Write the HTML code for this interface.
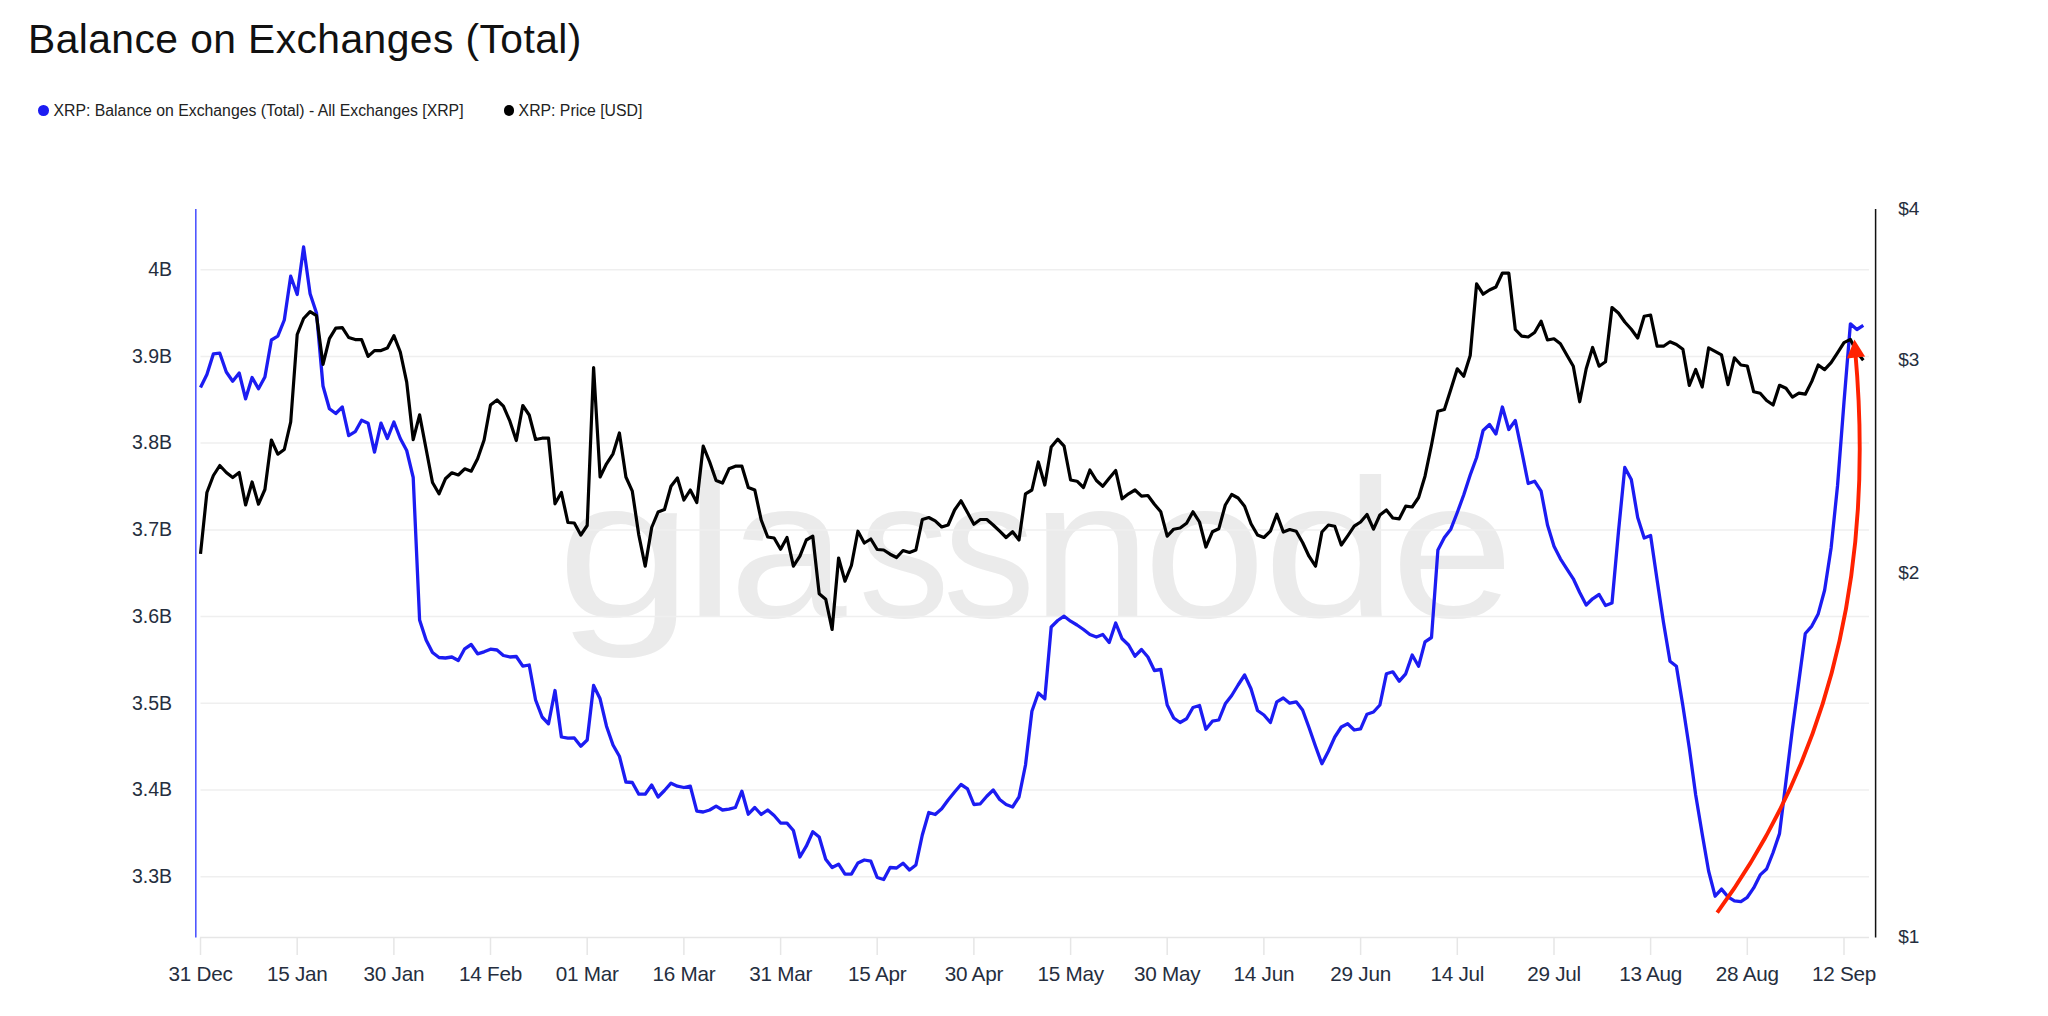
<!DOCTYPE html>
<html><head><meta charset="utf-8"><title>Balance on Exchanges (Total)</title>
<style>
html,body{margin:0;padding:0;background:#fff;}
body{width:2048px;height:1016px;position:relative;overflow:hidden;font-family:"Liberation Sans",Arial,sans-serif;}
h1{position:absolute;left:28px;top:14px;margin:0;font-weight:400;font-size:40.8px;letter-spacing:0.42px;line-height:50px;color:#111;white-space:nowrap;}
.lg{position:absolute;top:100.8px;font-size:15.8px;line-height:20px;color:#222;white-space:nowrap;}
.dot{position:absolute;width:10.6px;height:10.6px;border-radius:50%;top:105.1px;}
.ax{font-family:"Liberation Sans",Arial,sans-serif;font-size:19.5px;fill:#252e3e;}
.rx{font-family:"Liberation Sans",Arial,sans-serif;font-size:19px;fill:#252e3e;}
.dx{font-family:"Liberation Sans",Arial,sans-serif;font-size:20.7px;letter-spacing:-0.25px;fill:#252e3e;}
</style></head>
<body>
<svg width="2048" height="1016" viewBox="0 0 2048 1016" style="position:absolute;left:0;top:0"><g fill="#ebebeb" font-family="Liberation Sans, Arial, sans-serif" font-size="200"><text transform="matrix(1.2222 0 0 0.9850 556.73 616.5)">g</text><text transform="matrix(1.1534 0 0 1.0150 683.94 616.5)">l</text><text transform="matrix(1.0545 0 0 0.9850 729.14 616.5)">a</text><text transform="matrix(0.9117 0 0 0.9850 858.59 616.5)">s</text><text transform="matrix(0.9220 0 0 0.9850 943.04 616.5)">s</text><text transform="matrix(1.0753 0 0 0.9850 1031.41 616.5)">n</text><text transform="matrix(1.1028 0 0 0.9850 1143.14 616.5)">o</text><text transform="matrix(1.2111 0 0 0.9850 1262.83 616.5)">d</text><text transform="matrix(1.1064 0 0 0.9850 1390.71 616.5)">e</text></g><line x1="200.5" x2="1869" y1="269.7" y2="269.7" stroke="#efefef" stroke-width="1.5"/><line x1="200.5" x2="1869" y1="356.4" y2="356.4" stroke="#efefef" stroke-width="1.5"/><line x1="200.5" x2="1869" y1="443.1" y2="443.1" stroke="#efefef" stroke-width="1.5"/><line x1="200.5" x2="1869" y1="529.9" y2="529.9" stroke="#efefef" stroke-width="1.5"/><line x1="200.5" x2="1869" y1="616.6" y2="616.6" stroke="#efefef" stroke-width="1.5"/><line x1="200.5" x2="1869" y1="703.3" y2="703.3" stroke="#efefef" stroke-width="1.5"/><line x1="200.5" x2="1869" y1="790.0" y2="790.0" stroke="#efefef" stroke-width="1.5"/><line x1="200.5" x2="1869" y1="876.7" y2="876.7" stroke="#efefef" stroke-width="1.5"/><line x1="200" x2="1869" y1="937.6" y2="937.6" stroke="#e6e6e6" stroke-width="1.5"/><line x1="200.5" x2="200.5" y1="937.6" y2="955" stroke="#e6e6e6" stroke-width="1.5"/><line x1="297.2" x2="297.2" y1="937.6" y2="955" stroke="#e6e6e6" stroke-width="1.5"/><line x1="393.9" x2="393.9" y1="937.6" y2="955" stroke="#e6e6e6" stroke-width="1.5"/><line x1="490.5" x2="490.5" y1="937.6" y2="955" stroke="#e6e6e6" stroke-width="1.5"/><line x1="587.2" x2="587.2" y1="937.6" y2="955" stroke="#e6e6e6" stroke-width="1.5"/><line x1="683.9" x2="683.9" y1="937.6" y2="955" stroke="#e6e6e6" stroke-width="1.5"/><line x1="780.6" x2="780.6" y1="937.6" y2="955" stroke="#e6e6e6" stroke-width="1.5"/><line x1="877.2" x2="877.2" y1="937.6" y2="955" stroke="#e6e6e6" stroke-width="1.5"/><line x1="973.9" x2="973.9" y1="937.6" y2="955" stroke="#e6e6e6" stroke-width="1.5"/><line x1="1070.6" x2="1070.6" y1="937.6" y2="955" stroke="#e6e6e6" stroke-width="1.5"/><line x1="1167.2" x2="1167.2" y1="937.6" y2="955" stroke="#e6e6e6" stroke-width="1.5"/><line x1="1263.9" x2="1263.9" y1="937.6" y2="955" stroke="#e6e6e6" stroke-width="1.5"/><line x1="1360.6" x2="1360.6" y1="937.6" y2="955" stroke="#e6e6e6" stroke-width="1.5"/><line x1="1457.3" x2="1457.3" y1="937.6" y2="955" stroke="#e6e6e6" stroke-width="1.5"/><line x1="1554.0" x2="1554.0" y1="937.6" y2="955" stroke="#e6e6e6" stroke-width="1.5"/><line x1="1650.6" x2="1650.6" y1="937.6" y2="955" stroke="#e6e6e6" stroke-width="1.5"/><line x1="1747.3" x2="1747.3" y1="937.6" y2="955" stroke="#e6e6e6" stroke-width="1.5"/><line x1="1844.0" x2="1844.0" y1="937.6" y2="955" stroke="#e6e6e6" stroke-width="1.5"/><line x1="195.8" x2="195.8" y1="209" y2="937.6" stroke="#4f57ff" stroke-width="1.6"/><line x1="1875.6" x2="1875.6" y1="209" y2="937.6" stroke="#111" stroke-width="1.5"/><text x="172" y="275.9" text-anchor="end" class="ax">4B</text><text x="172" y="362.6" text-anchor="end" class="ax">3.9B</text><text x="172" y="449.3" text-anchor="end" class="ax">3.8B</text><text x="172" y="536.1" text-anchor="end" class="ax">3.7B</text><text x="172" y="622.8" text-anchor="end" class="ax">3.6B</text><text x="172" y="709.5" text-anchor="end" class="ax">3.5B</text><text x="172" y="796.2" text-anchor="end" class="ax">3.4B</text><text x="172" y="882.9" text-anchor="end" class="ax">3.3B</text><text x="200.5" y="981" text-anchor="middle" class="dx">31 Dec</text><text x="297.2" y="981" text-anchor="middle" class="dx">15 Jan</text><text x="393.9" y="981" text-anchor="middle" class="dx">30 Jan</text><text x="490.5" y="981" text-anchor="middle" class="dx">14 Feb</text><text x="587.2" y="981" text-anchor="middle" class="dx">01 Mar</text><text x="683.9" y="981" text-anchor="middle" class="dx">16 Mar</text><text x="780.6" y="981" text-anchor="middle" class="dx">31 Mar</text><text x="877.2" y="981" text-anchor="middle" class="dx">15 Apr</text><text x="973.9" y="981" text-anchor="middle" class="dx">30 Apr</text><text x="1070.6" y="981" text-anchor="middle" class="dx">15 May</text><text x="1167.2" y="981" text-anchor="middle" class="dx">30 May</text><text x="1263.9" y="981" text-anchor="middle" class="dx">14 Jun</text><text x="1360.6" y="981" text-anchor="middle" class="dx">29 Jun</text><text x="1457.3" y="981" text-anchor="middle" class="dx">14 Jul</text><text x="1554.0" y="981" text-anchor="middle" class="dx">29 Jul</text><text x="1650.6" y="981" text-anchor="middle" class="dx">13 Aug</text><text x="1747.3" y="981" text-anchor="middle" class="dx">28 Aug</text><text x="1844.0" y="981" text-anchor="middle" class="dx">12 Sep</text><text x="1898.3" y="215.2" class="rx">$4</text><text x="1898.3" y="366.0" class="rx">$3</text><text x="1898.3" y="579.1" class="rx">$2</text><text x="1898.3" y="943.1" class="rx">$1</text><polyline fill="none" stroke="#1c1cf2" stroke-width="3.3" stroke-linejoin="round" points="200.5,387.5 206.9,374.5 213.4,353.8 219.8,353.2 226.3,372.0 232.7,381.2 239.2,373.0 245.6,398.8 252.1,377.5 258.5,388.8 264.9,377.0 271.4,340.0 277.8,336.2 284.3,320.0 290.7,276.2 297.2,294.5 303.6,247.0 310.1,293.8 316.5,313.0 323.0,386.0 329.4,408.7 335.8,413.5 342.3,407.0 348.7,435.6 355.2,431.7 361.6,420.2 368.1,423.2 374.5,452.1 381.0,423.2 387.4,438.5 393.9,422.0 400.3,438.5 406.7,450.5 413.2,477.5 419.6,620.0 426.1,640.0 432.5,652.5 439.0,657.5 445.4,658.0 451.9,657.0 458.3,660.5 464.7,648.8 471.2,644.5 477.6,653.8 484.1,651.8 490.5,649.2 497.0,650.0 503.4,655.5 509.9,657.0 516.3,656.5 522.8,666.2 529.2,665.0 535.6,700.0 542.1,717.0 548.5,723.8 555.0,690.5 561.4,737.0 567.9,738.2 574.3,738.0 580.8,746.2 587.2,740.0 593.6,685.5 600.1,698.8 606.5,726.2 613.0,745.0 619.4,756.2 625.9,782.0 632.3,782.5 638.8,794.2 645.2,794.2 651.7,785.0 658.1,797.0 664.5,790.5 671.0,783.2 677.4,786.2 683.9,787.5 690.3,786.2 696.8,811.2 703.2,812.0 709.7,810.0 716.1,806.2 722.5,810.0 729.0,809.2 735.4,807.5 741.9,791.2 748.3,814.2 754.8,807.5 761.2,814.5 767.7,810.0 774.1,815.5 780.6,823.0 787.0,823.2 793.4,830.5 799.9,857.0 806.3,846.2 812.8,831.8 819.2,837.0 825.7,859.2 832.1,867.5 838.6,864.2 845.0,874.2 851.4,874.2 857.9,863.0 864.3,860.0 870.8,861.2 877.2,877.5 883.7,879.5 890.1,867.5 896.6,868.0 903.0,863.2 909.5,870.0 915.9,865.0 922.3,835.0 928.8,812.5 935.2,814.5 941.7,808.8 948.1,800.0 954.6,792.0 961.0,784.5 967.5,788.8 973.9,804.5 980.3,803.8 986.8,796.2 993.2,790.0 999.7,799.5 1006.1,804.5 1012.6,807.0 1019.0,797.0 1025.5,765.0 1031.9,711.2 1038.3,693.0 1044.8,698.8 1051.2,627.0 1057.7,620.5 1064.1,616.2 1070.6,621.2 1077.0,625.0 1083.5,629.5 1089.9,634.5 1096.4,637.0 1102.8,634.5 1109.2,642.5 1115.7,623.0 1122.1,638.8 1128.6,645.0 1135.0,656.2 1141.5,649.5 1147.9,657.0 1154.4,670.5 1160.8,669.5 1167.2,705.0 1173.7,718.0 1180.1,722.5 1186.6,718.8 1193.0,707.5 1199.5,705.5 1205.9,729.2 1212.4,721.2 1218.8,720.0 1225.3,703.8 1231.7,695.5 1238.1,685.0 1244.6,675.0 1251.0,688.8 1257.5,710.5 1263.9,715.0 1270.4,722.5 1276.8,701.8 1283.3,698.0 1289.7,703.2 1296.2,701.8 1302.6,710.0 1309.0,727.5 1315.5,746.2 1321.9,763.8 1328.4,751.2 1334.8,737.0 1341.3,727.0 1347.7,723.8 1354.2,730.0 1360.6,728.8 1367.0,714.2 1373.5,712.0 1379.9,705.0 1386.4,673.8 1392.8,671.8 1399.3,681.2 1405.7,673.8 1412.2,655.0 1418.6,666.2 1425.0,641.8 1431.5,637.5 1437.9,550.0 1444.4,537.5 1450.8,529.2 1457.3,512.5 1463.7,495.0 1470.2,475.0 1476.6,457.5 1483.1,430.5 1489.5,424.5 1495.9,434.0 1502.4,407.0 1508.8,429.5 1515.3,420.5 1521.7,451.0 1528.2,483.5 1534.6,481.2 1541.1,491.2 1547.5,525.0 1554.0,546.2 1560.4,558.8 1566.8,568.8 1573.3,578.8 1579.7,592.5 1586.2,605.0 1592.6,598.8 1599.1,594.5 1605.5,605.5 1612.0,603.0 1618.4,532.5 1624.8,467.5 1631.3,479.5 1637.7,517.5 1644.2,538.0 1650.6,535.5 1657.1,580.0 1663.5,622.5 1670.0,661.2 1676.4,666.2 1682.9,706.0 1689.3,748.0 1695.7,795.0 1702.2,834.0 1708.6,871.0 1715.1,896.2 1721.5,889.1 1728.0,896.9 1734.4,900.9 1740.9,901.6 1747.3,897.3 1753.7,887.9 1760.2,874.9 1766.6,869.0 1773.1,852.5 1779.5,833.6 1786.0,781.0 1792.4,729.0 1798.9,681.0 1805.3,633.5 1811.8,626.1 1818.2,613.9 1824.6,590.2 1831.1,548.0 1837.5,486.0 1844.0,402.0 1850.4,323.8 1856.9,329.5 1863.3,325.3"/><polyline fill="none" stroke="#000" stroke-width="3.2" stroke-linejoin="round" points="200.5,553.8 206.9,492.5 213.4,475.5 219.8,465.5 226.3,472.5 232.7,477.5 239.2,472.5 245.6,505.0 252.1,482.0 258.5,504.2 264.9,489.5 271.4,440.0 277.8,454.2 284.3,449.5 290.7,422.0 297.2,334.5 303.6,318.5 310.1,311.6 316.5,315.7 323.0,364.4 329.4,338.7 335.8,328.1 342.3,327.7 348.7,337.5 355.2,339.6 361.6,339.6 368.1,356.4 374.5,350.6 381.0,350.6 387.4,348.1 393.9,335.7 400.3,352.0 406.7,382.1 413.2,439.7 419.6,414.9 426.1,449.0 432.5,482.5 439.0,493.8 445.4,478.8 451.9,472.8 458.3,475.0 464.7,468.8 471.2,471.2 477.6,458.8 484.1,440.0 490.5,405.0 497.0,400.0 503.4,406.2 509.9,421.2 516.3,440.5 522.8,405.5 529.2,415.0 535.6,439.5 542.1,438.2 548.5,438.2 555.0,503.8 561.4,492.5 567.9,522.5 574.3,523.0 580.8,535.0 587.2,525.5 593.6,367.5 600.1,477.0 606.5,463.8 613.0,453.8 619.4,433.0 625.9,477.0 632.3,491.2 638.8,535.0 645.2,566.2 651.7,527.5 658.1,512.0 664.5,509.5 671.0,486.2 677.4,478.0 683.9,500.0 690.3,490.0 696.8,502.5 703.2,446.2 709.7,462.0 716.1,480.5 722.5,483.0 729.0,468.8 735.4,466.2 741.9,466.2 748.3,487.5 754.8,490.0 761.2,520.0 767.7,537.0 774.1,538.0 780.6,549.2 787.0,537.5 793.4,566.2 799.9,556.2 806.3,540.0 812.8,536.2 819.2,593.8 825.7,599.2 832.1,629.5 838.6,558.0 845.0,581.2 851.4,565.5 857.9,531.2 864.3,543.0 870.8,539.0 877.2,549.5 883.7,550.0 890.1,554.2 896.6,557.5 903.0,550.5 909.5,552.5 915.9,550.0 922.3,519.5 928.8,517.5 935.2,520.8 941.7,527.0 948.1,525.0 954.6,510.0 961.0,500.8 967.5,512.5 973.9,524.2 980.3,519.5 986.8,519.5 993.2,525.0 999.7,531.2 1006.1,537.5 1012.6,531.8 1019.0,540.0 1025.5,493.8 1031.9,490.0 1038.3,462.0 1044.8,485.0 1051.2,447.0 1057.7,439.2 1064.1,446.2 1070.6,480.0 1077.0,481.2 1083.5,487.5 1089.9,470.0 1096.4,480.5 1102.8,486.2 1109.2,478.2 1115.7,470.5 1122.1,498.8 1128.6,493.8 1135.0,490.0 1141.5,496.2 1147.9,495.5 1154.4,504.2 1160.8,511.8 1167.2,536.2 1173.7,529.2 1180.1,528.0 1186.6,523.2 1193.0,511.8 1199.5,522.0 1205.9,547.0 1212.4,531.8 1218.8,528.8 1225.3,505.0 1231.7,494.5 1238.1,498.0 1244.6,506.2 1251.0,523.8 1257.5,535.0 1263.9,537.5 1270.4,531.2 1276.8,514.2 1283.3,532.0 1289.7,529.5 1296.2,531.2 1302.6,542.5 1309.0,556.2 1315.5,566.2 1321.9,532.0 1328.4,525.0 1334.8,526.2 1341.3,545.0 1347.7,535.8 1354.2,526.2 1360.6,522.0 1367.0,514.5 1373.5,529.2 1379.9,515.0 1386.4,510.0 1392.8,518.0 1399.3,518.8 1405.7,506.2 1412.2,507.0 1418.6,497.5 1425.0,476.2 1431.5,445.0 1437.9,411.2 1444.4,409.5 1450.8,389.5 1457.3,368.8 1463.7,376.2 1470.2,355.5 1476.6,283.8 1483.1,294.2 1489.5,290.0 1495.9,287.0 1502.4,273.0 1508.8,273.2 1515.3,329.5 1521.7,336.2 1528.2,337.0 1534.6,332.5 1541.1,321.2 1547.5,340.0 1554.0,338.8 1560.4,343.8 1566.8,355.0 1573.3,366.2 1579.7,401.8 1586.2,368.8 1592.6,347.5 1599.1,366.2 1605.5,361.8 1612.0,307.5 1618.4,313.0 1624.8,322.0 1631.3,329.2 1637.7,338.0 1644.2,316.2 1650.6,315.0 1657.1,346.2 1663.5,346.2 1670.0,341.8 1676.4,344.5 1682.9,349.2 1689.3,385.5 1695.7,369.5 1702.2,387.0 1708.6,347.9 1715.1,351.3 1721.5,354.8 1728.0,384.7 1734.4,357.8 1740.9,365.0 1747.3,366.0 1753.7,391.8 1760.2,393.2 1766.6,400.5 1773.1,405.0 1779.5,385.3 1786.0,388.3 1792.4,397.1 1798.9,393.2 1805.3,394.2 1811.8,381.4 1818.2,365.0 1824.6,369.6 1831.1,362.7 1837.5,352.8 1844.0,342.6 1850.4,339.4 1856.9,352.0 1863.3,360.3"/><path d="M1717.2,912.7 C1838.7,746.4 1873.3,553.6 1855.3,352" fill="none" stroke="#ff2200" stroke-width="3.9"/><polygon points="1854.4,339.6 1846.9,358.6 1865.1,356.5" fill="#ff2200"/></svg>
<h1>Balance on Exchanges (Total)</h1>
<div class="dot" style="left:38.1px;background:#1c1cf2"></div>
<div class="lg" style="left:53.5px">XRP: Balance on Exchanges (Total) - All Exchanges [XRP]</div>
<div class="dot" style="left:503.5px;background:#000"></div>
<div class="lg" style="left:518.6px">XRP: Price [USD]</div>
</body></html>
